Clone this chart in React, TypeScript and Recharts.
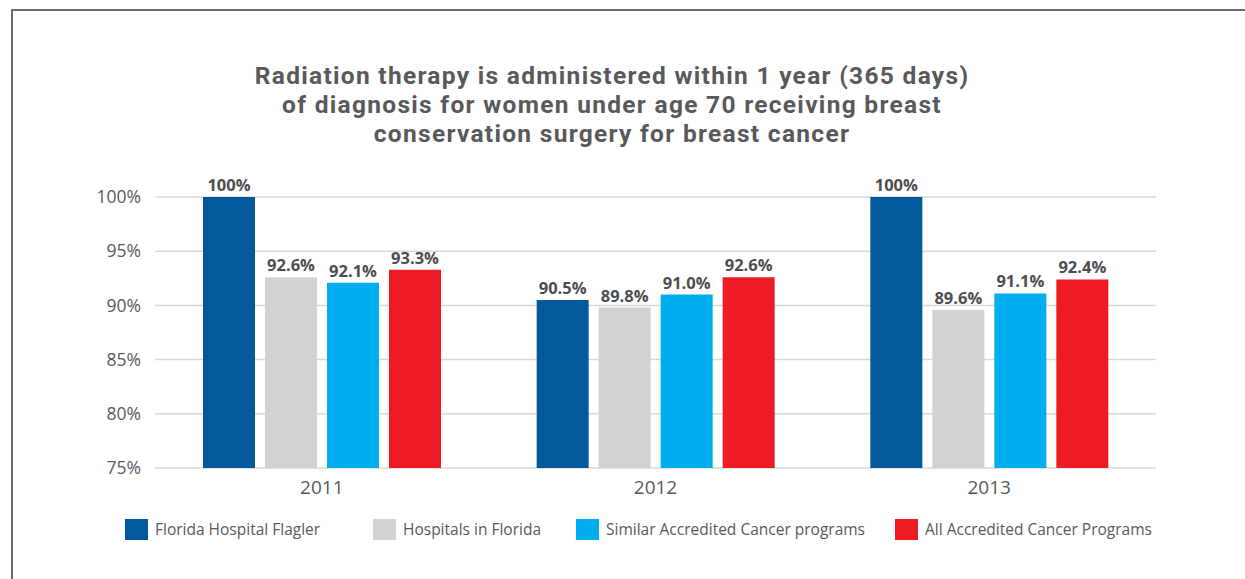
import React from "react";
import { BarChart, Bar, XAxis, YAxis, CartesianGrid, LabelList } from "recharts";

const YEARS = ["2011", "2012", "2013"];
const FLAGLER = [100, 90.5, 100];
const FLORIDA = [92.6, 89.8, 89.6];
const SIMILAR = [92.1, 91.0, 91.1];
const ALL = [93.3, 92.6, 92.4];
const Y_TICKS = [75, 80, 85, 90, 95, 100];

const SERIES = [
  { key: "flagler", name: "Florida Hospital Flagler", color: "#02599c", values: FLAGLER },
  { key: "florida", name: "Hospitals in Florida", color: "#d1d2d4", values: FLORIDA },
  { key: "similar", name: "Similar Accredited Cancer programs", color: "#00aeef", values: SIMILAR },
  { key: "all", name: "All Accredited Cancer Programs", color: "#ed1c24", values: ALL },
];

const TITLE = [
  "Radiation therapy is administered within 1 year (365 days)",
  "of diagnosis for women under age 70 receiving breast",
  "conservation surgery for breast cancer",
];

const data = YEARS.map((year, i) => {
  const row: Record<string, string | number> = { year };
  SERIES.forEach((s) => (row[s.key] = s.values[i]));
  return row;
});

const TEXT = "#58595b";
const FONT = "'Open Sans', sans-serif";
const legendWidths = [248, 203, 319, 260];

const fmt = (v: any) => (v === 100 ? "100%" : `${Number(v).toFixed(1)}%`);

export default function App() {
  return (
    <div style={{ position: "absolute", left: 0, top: 0, width: 1245, height: 579, background: "#fff", overflow: "hidden", fontFamily: FONT }}>
      <div style={{ position: "absolute", left: 11, top: 9, width: 1300, height: 700, borderTop: "2px solid #6d6d6d", borderLeft: "2px solid #6d6d6d" }} />
      <div style={{ position: "absolute", left: 162, top: 61, width: 900, textAlign: "center", fontSize: 24.5, lineHeight: "29px", fontWeight: 700, color: TEXT, fontFamily: "Roboto, sans-serif", letterSpacing: 1.3 }}>
        {TITLE.map((t) => (
          <div key={t}>{t}</div>
        ))}
      </div>
      <div style={{ position: "absolute", left: 0, top: 0 }}>
        <BarChart width={1245} height={579} data={data} margin={{ top: 197, right: 89, bottom: 81, left: 95 }} barSize={52} barGap={10}>
          <CartesianGrid vertical={false} stroke="#d9d9d9" strokeWidth={1.5} />
          <XAxis dataKey="year" axisLine={false} tickLine={false} height={30} tick={{ fill: TEXT, fontSize: 19, fontFamily: FONT }} dy={5} />
          <YAxis width={60} domain={[75, 100]} ticks={Y_TICKS} allowDataOverflow axisLine={false} tickLine={false} tickMargin={8}
            tickFormatter={(v) => `${v}%`} tick={{ fill: TEXT, fontSize: 17.5, fontFamily: FONT }} />
          {SERIES.map((s) => (
            <Bar key={s.key} dataKey={s.key} name={s.name} fill={s.color} isAnimationActive={false}>
              <LabelList dataKey={s.key} position="top" offset={6} formatter={fmt}
                style={{ fill: "#4d4d4f", fontSize: 16.5, fontWeight: 700, fontFamily: FONT }} />
            </Bar>
          ))}
        </BarChart>
      </div>
      <div style={{ position: "absolute", left: 125, top: 518, display: "flex", alignItems: "center" }}>
        {SERIES.map((s, i) => (
          <div key={s.key} style={{ display: "flex", alignItems: "center", width: legendWidths[i] }}>
            <div style={{ width: 23, height: 21, background: s.color, marginRight: 7 }} />
            <span style={{ fontSize: 15.5, color: TEXT }}>{s.name}</span>
          </div>
        ))}
      </div>
    </div>
  );
}
